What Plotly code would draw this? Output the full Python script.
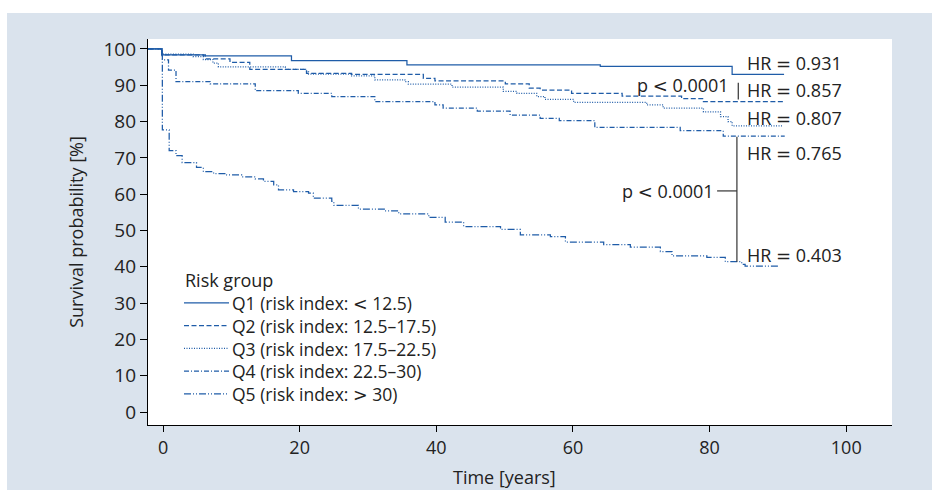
import plotly.graph_objects as go

# Kaplan-Meier step curves per risk quintile (time in years, survival in %)
time_q1 = [-2.2, -0.2, 5.9, 18.8, 35.7, 64.0, 83.3, 90.9]
surv_q1 = [100, 98.4, 98.1, 96.8, 95.6, 95.2, 93.0, 93.0]

time_q2 = [-2.2, -0.2, 6.2, 9.8, 12.7, 21.0, 27.6, 38.1, 39.8, 50.1, 53.6,
           55.2, 59.8, 67.2, 75.9, 79.1, 90.8]
surv_q2 = [100, 98.4, 97.3, 96.3, 94.4, 93.3, 93.0, 91.9, 91.2, 90.4, 89.2,
           88.7, 87.8, 87.0, 86.3, 85.5, 85.5]

time_q3 = [-2.2, -0.2, 4.4, 5.9, 7.3, 8.1, 17.9, 21.0, 21.3, 27.6, 31.0,
           35.4, 35.9, 42.3, 49.8, 51.8, 54.7, 55.9, 60.1, 70.8, 73.2, 79.1,
           81.6, 82.7, 83.3, 90.7]
surv_q3 = [100, 98.6, 97.9, 97.1, 96.1, 95.1, 94.4, 93.7, 93.1, 92.6, 91.5,
           91.0, 90.3, 89.5, 88.3, 87.8, 86.9, 86.1, 85.3, 84.6, 83.7, 82.7,
           81.4, 80.0, 78.8, 78.6]

time_q4 = [-2.2, -0.1, 0.8, 1.9, 6.9, 13.5, 19.8, 24.7, 31.0, 39.8, 41.0,
           46.0, 50.8, 55.2, 58.0, 63.2, 75.7, 82.0, 91.0]
surv_q4 = [100, 97.0, 94.2, 91.0, 90.4, 88.5, 87.8, 86.9, 85.5, 84.6, 83.7,
           82.9, 81.8, 80.9, 80.3, 78.4, 77.5, 76.0, 76.0]

time_q5 = [-2.2, -0.1, 0.9, 1.9, 2.8, 4.9, 5.9, 7.4, 9.3, 11.5, 13.5, 14.7,
           16.2, 16.9, 19.1, 21.3, 22.0, 24.7, 25.0, 28.6, 32.5, 34.5, 38.9,
           41.3, 44.0, 49.4, 52.3, 56.7, 58.9, 64.5, 68.4, 72.8, 74.5, 79.6,
           82.3, 84.7, 85.2, 90.1]
surv_q5 = [100, 77.7, 72.0, 70.6, 68.7, 67.4, 66.2, 65.7, 65.3, 64.8, 64.2,
           63.5, 62.6, 61.2, 60.7, 60.3, 58.9, 58.0, 56.9, 55.9, 55.4, 54.6,
           53.6, 52.3, 51.1, 50.3, 48.8, 48.3, 46.8, 46.1, 45.4, 44.2, 43.0,
           42.6, 41.4, 40.7, 40.2, 39.9]

# math symbols are set in a wider face, as in the printed figure
LT = '<span style="font-family:DejaVu Sans">&lt;</span>'
GT = '<span style="font-family:DejaVu Sans">&gt;</span>'
EQ = '<span style="font-family:DejaVu Sans">=</span>'

group_labels = [
    f"Q1 (risk index: {LT} 12.5)",
    "Q2 (risk index: 12.5–17.5)",
    "Q3 (risk index: 17.5–22.5)",
    "Q4 (risk index: 22.5–30)",
    f"Q5 (risk index: {GT} 30)",
]
hazard_ratios = [0.931, 0.857, 0.807, 0.765, 0.403]
x_ticks = [0, 20, 40, 60, 80, 100]
y_ticks = [0, 10, 20, 30, 40, 50, 60, 70, 80, 90, 100]

series = [(time_q1, surv_q1), (time_q2, surv_q2), (time_q3, surv_q3),
          (time_q4, surv_q4), (time_q5, surv_q5)]
dashes = ["solid", "5px,2.5px", "1px,1.5px", "5px,2px,1px,2px",
          "7px,2px,1px,2px,1px,2px"]

BLUE = "#1f5ca8"
TEXT = "#222222"
FONT = "Open Sans"
FS = 18
LEG_FS = 17.5

# plot-area geometry in pixels (used to place paper-referenced items)
W, H = 940, 494
PL, PR, PT, PB = 148, 892, 39, 425


def px_x(px):
    return (px - PL) / (PR - PL)


def px_y(py):
    return (PB - py) / (PB - PT)


fig = go.Figure()
for (t, s), name, dash in zip(series, group_labels, dashes):
    fig.add_trace(go.Scatter(
        x=t, y=s, mode="lines", name=name, showlegend=False,
        line=dict(color=BLUE, width=1.25, dash=dash, shape="hv"),
        hoverinfo="skip",
    ))

annotations = []
shapes = []

# white frame around the tinted panel
for x0, x1, y0, y1 in [(-10, 950, 0, 13), (-10, 7, -10, 504),
                       (932, 950, -10, 504), (-10, 950, 490, 504)]:
    shapes.append(dict(type="rect", xref="paper", yref="paper",
                       x0=px_x(x0), x1=px_x(x1), y0=px_y(y1), y1=px_y(y0),
                       fillcolor="white", line=dict(width=0), layer="below"))

txt_font = dict(family=FONT, size=FS, color=TEXT)

# hazard ratio labels at the curve ends
hr_y = [96.2, 88.7, 80.9, 71.3, 43.3]
for hr, yy in zip(hazard_ratios, hr_y):
    annotations.append(dict(x=85.25, y=yy, xref="x", yref="y",
                            text=f"HR {EQ} {hr:.3f}", showarrow=False,
                            xanchor="left", yanchor="middle", font=txt_font))

# p-value brackets
annotations.append(dict(x=83.1, y=90.1, xref="x", yref="y",
                        text=f"p {LT} 0.0001", showarrow=False,
                        xanchor="right", yanchor="middle", font=txt_font))
annotations.append(dict(x=80.9, y=60.9, xref="x", yref="y",
                        text=f"p {LT} 0.0001", showarrow=False,
                        xanchor="right", yanchor="middle", font=txt_font))
bracket = dict(color="#333333", width=1.2)
shapes.append(dict(type="line", xref="x", yref="y", x0=84.2, x1=84.2,
                   y0=86.1, y1=90.7, line=bracket))
shapes.append(dict(type="line", xref="x", yref="y", x0=84.0, x1=84.0,
                   y0=41.4, y1=75.8, line=bracket))
shapes.append(dict(type="line", xref="x", yref="y", x0=81.1, x1=84.0,
                   y0=60.9, y1=60.9, line=bracket))

# legend block: title, line keys and one multi-line label column
annotations.append(dict(x=px_x(183), y=px_y(280), xref="paper", yref="paper",
                        text="Risk group", showarrow=False,
                        xanchor="left", yanchor="middle", font=txt_font))
row_step = LEG_FS * 1.3
row_mid = 348.4
for i, dash in enumerate(dashes):
    yy = row_mid + row_step * (i - 2)
    shapes.append(dict(type="line", xref="paper", yref="paper",
                       x0=px_x(184), x1=px_x(229), y0=px_y(yy), y1=px_y(yy),
                       line=dict(color=BLUE, width=1.25, dash=dash)))
annotations.append(dict(x=px_x(230), y=px_y(row_mid), xref="paper",
                        yref="paper", text="<br>".join(group_labels),
                        showarrow=False, align="left",
                        xanchor="left", yanchor="middle",
                        font=dict(family=FONT, size=LEG_FS, color=TEXT)))

# x-axis title centred under the 0-100 span
annotations.append(dict(x=50, y=px_y(477), xref="x", yref="paper",
                        text="Time [years]", showarrow=False,
                        xanchor="center", yanchor="middle", font=txt_font))

fig.update_layout(
    width=W, height=H,
    margin=dict(l=PL, r=W - PR, t=PT, b=H - PB, pad=0),
    paper_bgcolor="#dae3ed",
    plot_bgcolor="white",
    font=txt_font,
    showlegend=False,
    annotations=annotations,
    shapes=shapes,
    xaxis=dict(range=[-2.2, 106.7], tickvals=x_ticks, ticks="outside",
               ticklen=6, tickcolor="black", tickwidth=1, showline=True,
               linecolor="black", linewidth=1.2, showgrid=False,
               zeroline=False, tickfont=txt_font),
    yaxis=dict(range=[-3.58, 102.75], tickvals=y_ticks, ticks="outside",
               ticklen=7, tickcolor="black", tickwidth=1, showline=True,
               linecolor="black", linewidth=1.2, showgrid=False,
               zeroline=False, tickfont=dict(family=FONT, size=19, color=TEXT),
               title=dict(text="Survival probability [%]", standoff=15,
                          font=txt_font)),
)

fig.write_html("out.html")
